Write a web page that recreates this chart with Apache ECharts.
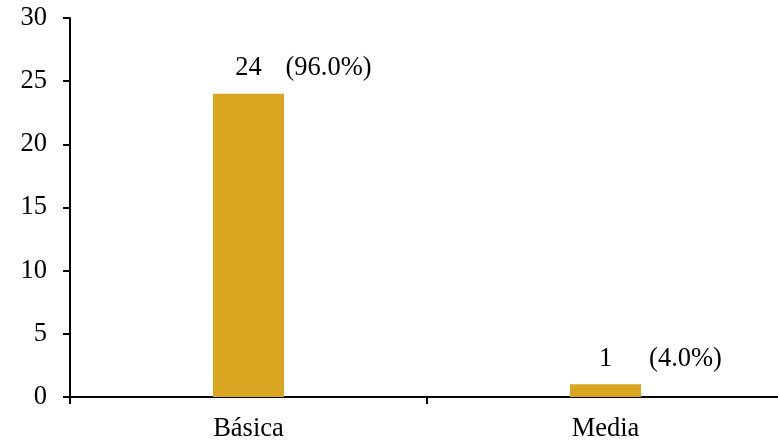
<!DOCTYPE html>
<html>
<head>
<meta charset="utf-8">
<script src="https://cdn.jsdelivr.net/npm/echarts@6/dist/echarts.min.js"></script>
<style>html,body{margin:0;padding:0;background:#fff}#c{width:778px;height:441px}</style>
</head>
<body>
<div id="c"></div>
<script>
var categories = ['Básica', 'Media'];
var counts = [24, 1];
var percents = ['(96.0%)', '(4.0%)'];
var yTicks = [0, 5, 10, 15, 20, 25, 30];

var FONT = '"Liberation Serif", "Times New Roman", serif';
var FS = 26.5;
var chart = echarts.init(document.getElementById('c'), null, {renderer: 'canvas'});
chart.setOption({
  animation: false,
  grid: {left: 70, width: 714, top: 18, height: 379, containLabel: false, outerBoundsMode: 'none'},
  xAxis: {
    type: 'category',
    data: categories,
    boundaryGap: true,
    axisLine: {show: true, lineStyle: {color: '#000', width: 2}},
    axisTick: {show: true, length: 7, alignWithLabel: false, lineStyle: {color: '#000', width: 2}},
    axisLabel: {color: '#000', fontFamily: FONT, fontSize: FS, margin: 19}
  },
  yAxis: {
    type: 'value',
    min: yTicks[0],
    max: yTicks[yTicks.length - 1],
    interval: 5,
    axisLine: {show: true, lineStyle: {color: '#000', width: 2}},
    axisTick: {show: true, length: 7, lineStyle: {color: '#000', width: 2}},
    splitLine: {show: false},
    axisLabel: {color: '#000', fontFamily: FONT, fontSize: FS, margin: 23}
  },
  series: [
    {
      type: 'bar',
      data: counts,
      barWidth: 71,
      itemStyle: {color: '#DAA520'},
      label: {show: true, position: 'top', distance: 12, color: '#000', fontFamily: FONT, fontSize: FS}
    },
    {
      type: 'bar',
      data: counts,
      barWidth: 71,
      barGap: '-100%',
      itemStyle: {color: 'rgba(0,0,0,0)'},
      silent: true,
      label: {
        show: true, position: 'top', distance: 12, offset: [80, 0],
        color: '#000', fontFamily: FONT, fontSize: FS,
        formatter: function (p) { return percents[p.dataIndex]; }
      }
    }
  ]
});
</script>
</body>
</html>
